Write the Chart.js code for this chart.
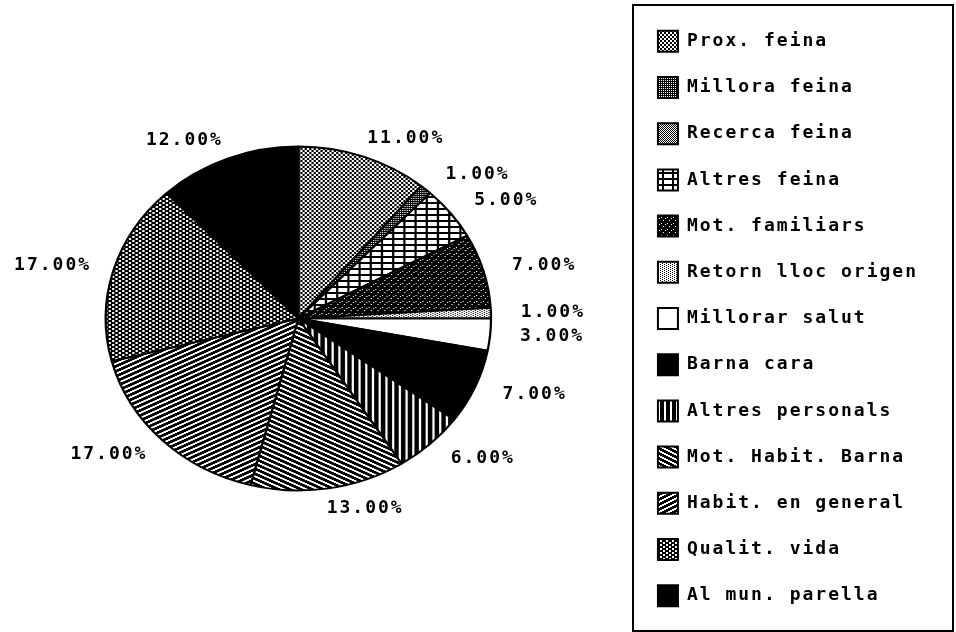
<!DOCTYPE html>
<html>
<head>
<meta charset="utf-8">
<script src="https://cdn.jsdelivr.net/npm/chart.js@4.4.1/dist/chart.umd.min.js"></script>
<style>
  html, body { margin: 0; padding: 0; background: #fff; overflow: hidden; }
  #wrap { position: relative; width: 956px; height: 632px; overflow: hidden; }
  #pie { position: absolute; left: -36px; top: 0; }
</style>
</head>
<body>
<div id="wrap"><canvas id="pie" width="992" height="632"></canvas></div>
<script>
// motius (percent of answers)
const categories = [
    'Prox. feina', 'Millora feina', 'Recerca feina', 'Altres feina',
    'Mot. familiars', 'Retorn lloc origen', 'Millorar salut', 'Barna cara',
    'Altres personals', 'Mot. Habit. Barna', 'Habit. en general',
    'Qualit. vida', 'Al mun. parella'
];
const shares = [11, 1, 0, 5, 7, 1, 3, 7, 6, 13, 17, 17, 12];

const X_STRETCH = 1.12; // the original pie is a bit wider than tall
const LABEL_FONT = 'bold 18px "DejaVu Sans Mono"';

// black & white fill patterns, one per slice
function tile(w, h, isBlack) {
    const c = document.createElement('canvas');
    c.width = w;
    c.height = h;
    const g = c.getContext('2d');
    g.fillStyle = '#fff';
    g.fillRect(0, 0, w, h);
    g.fillStyle = '#000';
    for (let y = 0; y < h; y++) {
        for (let x = 0; x < w; x++) {
            if (isBlack(x, y)) g.fillRect(x, y, 1, 1);
        }
    }
    return g.createPattern(c, 'repeat');
}

const fills = [
    tile(4, 4, (x, y) => ((x >> 1) + (y >> 1)) % 2 === 0),          // Prox. feina
    tile(2, 2, (x, y) => !(x === 1 && y === 0)),                     // Millora feina
    tile(2, 2, (x, y) => (x + y) % 2 === 0),                         // Recerca feina
    tile(10, 6, (x, y) => x >= 8 || y >= 4),                         // Altres feina
    tile(6, 6, (x, y) => !((x === 1 && y === 1) || (x === 5 && y === 2) || (x === 3 && y === 4))), // Mot. familiars
    tile(4, 2, (x, y) => (x === 0 && y === 0) || (x === 2 && y === 1)), // Retorn lloc origen
    '#ffffff',                                                       // Millorar salut
    '#000000',                                                       // Barna cara
    tile(6, 1, (x) => x < 4),                                        // Altres personals
    tile(10, 5, (x, y) => ((y - (x >> 1)) % 5 + 5) % 5 < 3),          // Mot. Habit. Barna
    tile(10, 5, (x, y) => ((y + (x >> 1)) % 5) < 3),                 // Habit. en general
    tile(6, 4, (x, y) => !((x < 2 && y < 2) || (x >= 3 && x < 5 && y >= 2))), // Qualit. vida
    '#000000'                                                        // Al mun. parella
];

const spacing = {
    id: 'spacing',
    beforeUpdate(chart) { chart.ctx.letterSpacing = '2px'; },
    beforeDraw(chart) { chart.ctx.letterSpacing = '2px'; }
};

// squash the round pie into the wide oval of the original
const ellipse = {
    id: 'ellipse',
    beforeDatasetsDraw(chart) {
        const arc = chart.getDatasetMeta(0).data[0];
        const ctx = chart.ctx;
        ctx.save();
        ctx.translate(arc.x, arc.y);
        ctx.scale(X_STRETCH, 1);
        ctx.translate(-arc.x, -arc.y);
    },
    afterDatasetsDraw(chart) {
        chart.ctx.restore();
    }
};

const pctLabels = {
    id: 'pctLabels',
    afterDatasetsDraw(chart) {
        const ctx = chart.ctx;
        const meta = chart.getDatasetMeta(0);
        const total = shares.reduce((a, b) => a + b, 0);
        ctx.save();
        ctx.font = LABEL_FONT;
        ctx.letterSpacing = '2px';
        ctx.fillStyle = '#000';
        ctx.textAlign = 'center';
        ctx.textBaseline = 'middle';
        meta.data.forEach((arc, i) => {
            if (!shares[i]) return;
            const mid = (arc.startAngle + arc.endAngle) / 2;
            const cos = Math.cos(mid);
            const sin = Math.sin(mid);
            const x = arc.x + (arc.outerRadius * X_STRETCH + 30) * cos + Math.sign(cos) * 32;
            const y = arc.y + (arc.outerRadius + 20) * sin;
            ctx.fillText((shares[i] / total * 100).toFixed(2) + '%', x, y);
        });
        ctx.restore();
    }
};

const legendFrame = {
    id: 'legendFrame',
    afterDraw(chart) {
        const lg = chart.legend;
        const ctx = chart.ctx;
        const left = Math.round(lg.left);
        ctx.save();
        ctx.strokeStyle = '#000';
        ctx.lineWidth = 2;
        ctx.strokeRect(left, 5, chart.width - 3 - left, 626);
        ctx.restore();
    }
};

Chart.defaults.color = '#000';

new Chart(document.getElementById('pie'), {
    type: 'pie',
    data: {
        labels: categories,
        datasets: [{
            data: shares,
            backgroundColor: fills,
            borderColor: '#000',
            borderWidth: 2,
            radius: 172
        }]
    },
    options: {
        responsive: false,
        animation: false,
        events: [],
        layout: { padding: { top: 5, right: 28 } },
        plugins: {
            legend: {
                position: 'right',
                align: 'center',
                labels: {
                    font: { family: 'DejaVu Sans Mono', size: 18, weight: 'bold' },
                    color: '#000',
                    boxWidth: 20,
                    boxHeight: 21,
                    padding: 25.2
                }
            },
            tooltip: { enabled: false }
        }
    },
    plugins: [spacing, ellipse, pctLabels, legendFrame]
});
</script>
</body>
</html>
